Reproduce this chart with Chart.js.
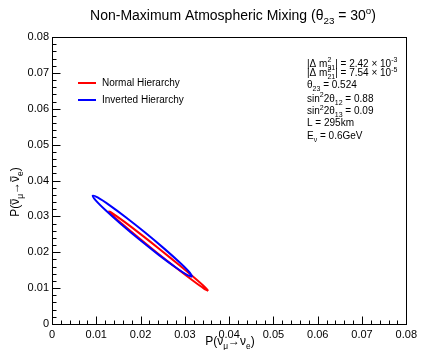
<!DOCTYPE html>
<html>
<head>
<meta charset="utf-8">
<script src="https://cdn.jsdelivr.net/npm/chart.js@4.4.0/dist/chart.umd.min.js"></script>
<style>
body { margin: 0; background: #fff; }
#wrap { width: 421px; height: 350px; position: relative; }
</style>
</head>
<body>
<div id="wrap"><canvas id="chart"></canvas></div>
<script>
'use strict';

// axis ticks
var xTicks = [0, 0.01, 0.02, 0.03, 0.04, 0.05, 0.06, 0.07, 0.08];
var yTicks = [0, 0.01, 0.02, 0.03, 0.04, 0.05, 0.06, 0.07, 0.08];
var minorStep = 0.002;

// contour of the normal hierarchy (closed, last point = first point)
var normalX = [0.03528, 0.03431, 0.03178, 0.02808, 0.02377, 0.01950, 0.01594, 0.01361,
               0.01288, 0.01384, 0.01638, 0.02007, 0.02439, 0.02865, 0.03222, 0.03455, 0.03528];
var normalY = [0.00922, 0.00987, 0.01212, 0.01561, 0.01981, 0.02409, 0.02778, 0.03034,
               0.03137, 0.03071, 0.02846, 0.02498, 0.02077, 0.01649, 0.01280, 0.01024, 0.00922];

// contour of the inverted hierarchy
var invertedX = [0.03169, 0.03060, 0.02795, 0.02417, 0.01981, 0.01556, 0.01205, 0.00982,
                 0.00920, 0.01030, 0.01295, 0.01673, 0.02109, 0.02534, 0.02885, 0.03108, 0.03169];
var invertedY = [0.01313, 0.01361, 0.01575, 0.01920, 0.02346, 0.02787, 0.03175, 0.03452,
                 0.03576, 0.03527, 0.03313, 0.02968, 0.02542, 0.02101, 0.01713, 0.01436, 0.01313];

var seriesNames = ['Normal Hierarchy', 'Inverted Hierarchy'];

// oscillation parameters printed on the plot
var paramLines = [
  [['|\u0394 m', 'n'], ['2', 's', '31'], ['| = 2.42 \u00d7 10', 'n'], ['-3', 'p']],
  [['|\u0394 m', 'n'], ['2', 's', '21'], ['| = 7.54 \u00d7 10', 'n'], ['-5', 'p']],
  [['\u03b8', 'n'], ['23', 'b'], [' = 0.524', 'n']],
  [['sin', 'n'], ['2', 'p'], ['2\u03b8', 'n'], ['12', 'b'], [' = 0.88', 'n']],
  [['sin', 'n'], ['2', 'p'], ['2\u03b8', 'n'], ['13', 'b'], [' = 0.09', 'n']],
  [['L = 295km', 'n']],
  [['E', 'n'], ['\u03bd', 'b'], [' = 0.6GeV', 'n']]
];
var paramBase = [66.5, 76, 88, 101.5, 114, 126, 138.5];

var FONT = '"Liberation Sans", Arial, Helvetica, sans-serif';

function toPoints(xs, ys) {
  var pts = [];
  for (var i = 0; i < xs.length; i++) pts.push({ x: xs[i], y: ys[i] });
  return pts;
}

// rich text: 'n' normal, 'b' subscript, 'p' superscript, 's' sup+sub stacked, 'o' overlined
function partWidth(ctx, p, size) {
  var s = (p[1] === 'n' || p[1] === 'o') ? size : size * 0.7;
  ctx.font = s + 'px ' + FONT;
  if (p[1] === 's') return Math.max(ctx.measureText(p[0]).width, ctx.measureText(p[2]).width);
  return ctx.measureText(p[0]).width;
}

function drawRich(ctx, x, y, parts, size, align) {
  var total = 0;
  parts.forEach(function (p) { total += partWidth(ctx, p, size); });
  var cx = align === 'center' ? x - total / 2 : x;
  ctx.textAlign = 'left';
  ctx.textBaseline = 'alphabetic';
  parts.forEach(function (p) {
    var w = partWidth(ctx, p, size);
    if (p[1] === 'n') {
      ctx.fillText(p[0], cx, y);
    } else if (p[1] === 'o') {
      ctx.fillText(p[0], cx, y);
      ctx.beginPath();
      ctx.lineWidth = 1;
      ctx.moveTo(cx + 0.5, y - size * 0.68);
      ctx.lineTo(cx + w - 0.5, y - size * 0.68);
      ctx.stroke();
    } else if (p[1] === 'b') {
      ctx.fillText(p[0], cx, y + size * 0.3);
    } else if (p[1] === 'p') {
      ctx.fillText(p[0], cx, y - size * 0.42);
    } else {
      ctx.fillText(p[0], cx, y - size * 0.42);
      ctx.fillText(p[2], cx, y + size * 0.3);
    }
    cx += w;
  });
}

var rootStyle = {
  id: 'rootStyle',
  afterDraw: function (chart) {
    var ctx = chart.ctx;
    var a = chart.chartArea;
    var sx = chart.scales.x, sy = chart.scales.y;
    var L = Math.round(a.left) + 0.5, R = Math.round(a.right) + 0.5;
    var T = Math.round(a.top) + 0.5, B = Math.round(a.bottom) + 0.5;
    ctx.save();
    ctx.fillStyle = '#000';
    ctx.strokeStyle = '#000';
    ctx.lineWidth = 1;

    // frame
    ctx.strokeRect(L, T, R - L, B - T);

    // inward tick marks, major every 5th
    ctx.beginPath();
    for (var i = 0; i <= 40; i++) {
      var v = i * minorStep;
      var len = (i % 5 === 0) ? 8 : 4;
      var px = Math.round(sx.getPixelForValue(v)) + 0.5;
      ctx.moveTo(px, B);
      ctx.lineTo(px, B - len);
      var py = Math.round(sy.getPixelForValue(v)) + 0.5;
      ctx.moveTo(L, py);
      ctx.lineTo(L + len, py);
    }
    ctx.stroke();

    // title
    drawRich(ctx, 233, 20, [
      ['Non-Maximum Atmospheric Mixing (\u03b8', 'n'], ['23', 'b'],
      [' = 30', 'n'], ['o', 'p'], [')', 'n']
    ], 14, 'center');

    // axis titles
    drawRich(ctx, 230, 345, [
      ['P(\u03bd', 'n'], ['\u03bc', 'b'], ['\u2192\u03bd', 'n'], ['e', 'b'], [')', 'n']
    ], 12, 'center');

    ctx.save();
    ctx.translate(19, 192);
    ctx.rotate(-Math.PI / 2);
    drawRich(ctx, 0, 0, [
      ['P(', 'n'], ['\u03bd', 'o'], ['\u03bc', 'b'], ['\u2192', 'n'], ['\u03bd', 'o'], ['e', 'b'], [')', 'n']
    ], 12, 'center');
    ctx.restore();

    // legend
    chart.data.datasets.forEach(function (ds, k) {
      var ly = 83 + k * 17;
      ctx.beginPath();
      ctx.strokeStyle = ds.borderColor;
      ctx.lineWidth = 2;
      ctx.moveTo(78, ly);
      ctx.lineTo(96, ly);
      ctx.stroke();
      ctx.font = '10px ' + FONT;
      ctx.textAlign = 'left';
      ctx.textBaseline = 'middle';
      ctx.fillText(ds.label, 102, ly);
    });

    // parameters
    ctx.strokeStyle = '#000';
    paramLines.forEach(function (line, k) {
      drawRich(ctx, 307, paramBase[k], line, 10, 'left');
    });

    ctx.restore();
  }
};

var ctx = document.getElementById('chart').getContext('2d');
var chart = new Chart(ctx, {
  type: 'scatter',
  data: {
    datasets: [{
      label: seriesNames[0],
      data: toPoints(normalX, normalY),
      showLine: true,
      borderColor: '#ff0000',
      borderWidth: 2,
      pointRadius: 0,
      tension: 0.3,
      fill: false,
      order: 1
    }, {
      label: seriesNames[1],
      data: toPoints(invertedX, invertedY),
      showLine: true,
      borderColor: '#0000ff',
      borderWidth: 2,
      pointRadius: 0,
      tension: 0.3,
      fill: false,
      order: 0
    }]
  },
  options: {
    responsive: true,
    maintainAspectRatio: false,
    animation: false,
    devicePixelRatio: 1,
    layout: { padding: { top: 37, right: 13, left: 0, bottom: 0 } },
    plugins: {
      legend: { display: false },
      tooltip: { enabled: false },
      title: { display: false }
    },
    scales: {
      x: {
        type: 'linear',
        min: 0,
        max: 0.08,
        afterBuildTicks: function (scale) {
          scale.ticks = xTicks.map(function (v) { return { value: v }; });
        },
        afterFit: function (scale) { scale.height = 26; },
        grid: { display: false, drawTicks: false },
        border: { display: false },
        ticks: {
          autoSkip: false,
          maxRotation: 0,
          padding: 4,
          color: '#000',
          font: { family: FONT, size: 11 },
          callback: function (v) { return v === 0 ? '0' : v.toFixed(2); }
        }
      },
      y: {
        type: 'linear',
        min: 0,
        max: 0.08,
        afterBuildTicks: function (scale) {
          scale.ticks = yTicks.map(function (v) { return { value: v }; });
        },
        afterFit: function (scale) { scale.width = 52; },
        grid: { display: false, drawTicks: false },
        border: { display: false },
        ticks: {
          autoSkip: false,
          padding: 3,
          color: '#000',
          font: { family: FONT, size: 11 },
          callback: function (v) { return v === 0 ? '0' : v.toFixed(2); }
        }
      }
    }
  },
  plugins: [rootStyle]
});
</script>
</body>
</html>
